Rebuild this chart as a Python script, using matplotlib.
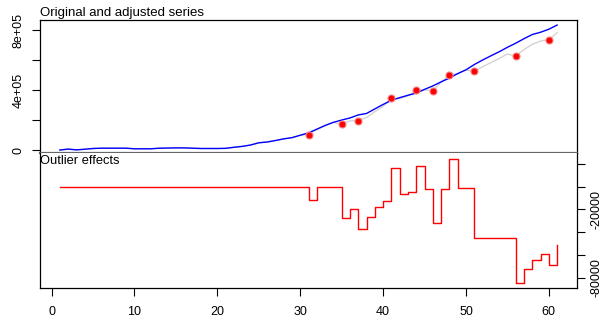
"""
Outlier detection plot - original vs adjusted series and outlier effects
"""

import numpy as np
import matplotlib
matplotlib.use('Agg')
import matplotlib.pyplot as plt

# font close to R's Helvetica/Arial
matplotlib.rcParams['font.family'] = ['Liberation Sans', 'DejaVu Sans']

# ---- data ----
time_idx = list(range(1, 62))

# adjusted series (blue)
adjusted = [2000, 8000, 3000, 7000, 12000, 14000, 14000, 14000, 14000, 10000,
            10000, 10000, 14000, 15000, 16000, 16000, 14000, 12000, 12000, 12000,
            13000, 20000, 26000, 35000, 50000, 55000, 65000, 76000, 84000, 100000,
            116000, 140000, 165000, 186000, 201000, 215000, 235000, 245000, 275000, 305000,
            332000, 350000, 366000, 380000, 405000, 428000, 455000, 480000, 510000, 535000,
            570000, 600000, 628000, 655000, 685000, 712000, 742000, 770000, 785000, 805000,
            833000]

# combined outlier effects (red step line)
effects = [0] * 30 + [-12000, 0, 0, 0,
                      -27800, -19700, -37400, -26400, -18200, -13000,
                      15900, -6600, -4800, 17900, -2400, -32200,
                      -1900, 24000, -1000, -1000,
                      -44700, -44700, -44700, -44700, -44700,
                      -84600, -72400, -64500, -58700, -68300, -51000]

# times where an outlier was detected
outlier_times = [31, 35, 37, 41, 44, 46, 48, 51, 56, 60]

# original series = adjusted + effects
original = np.array(adjusted) + np.array(effects)
outlier_values = [original[t - 1] for t in outlier_times]

# ---- figure ----
fig = plt.figure(figsize=(6.06, 3.21), dpi=100)
ax1 = fig.add_axes([40 / 606, 1 - 153 / 321, 537 / 606, 133 / 321])
ax2 = fig.add_axes([40 / 606, 1 - 288 / 321, 537 / 606, 135 / 321])

# top panel
ax1.plot(time_idx, original, color='#d3d3d3', lw=1.0)
ax1.plot(time_idx, adjusted, color='blue', lw=1.0)
ax1.plot(outlier_times, outlier_values, 'o', ms=5, mfc='red', mec='#f27d7d', mew=0.8)
ax1.set_xlim(-1.4, 63.4)
ax1.set_ylim(-17950, 866500)
ax1.set_xticks([])
ax1.set_yticks([0, 200000, 400000, 600000, 800000])
ax1.set_yticklabels(['0', '', '4e+05', '', '8e+05'])
ax1.tick_params(axis='y', length=6, width=0.8, pad=5, labelsize=9, labelrotation=90)
for lab in ax1.get_yticklabels():
    lab.set_va('center')
ax1.text(0, 1.01, 'Original and adjusted series', transform=ax1.transAxes,
         ha='left', va='bottom', fontsize=9.5)
ax1.spines['bottom'].set_color('#666666')
ax1.spines['bottom'].set_linewidth(1.6)

# bottom panel
ax2.plot(time_idx, effects, color='red', lw=1.0, drawstyle='steps-post')
ax2.set_xlim(-1.4, 63.4)
ax2.set_ylim(-88740, 29290)
ax2.yaxis.tick_right()
ax2.set_yticks([20000, 0, -20000, -40000, -60000, -80000])
ax2.set_yticklabels(['', '', '-20000', '', '', '-80000'])
ax2.tick_params(axis='y', length=6, width=0.8, pad=4, labelsize=9, labelrotation=90)
for lab in ax2.get_yticklabels():
    lab.set_va('center')
ax2.set_xticks([0, 10, 20, 30, 40, 50, 60])
ax2.tick_params(axis='x', length=6, width=0.8, pad=7, labelsize=9)
ax2.spines['top'].set_visible(False)
ax2.text(0, 0.985, 'Outlier effects', transform=ax2.transAxes,
         ha='left', va='top', fontsize=9.3)

for ax in (ax1, ax2):
    for name in ('left', 'right', 'top', 'bottom'):
        if ax.spines[name].get_linewidth() < 1.5:
            ax.spines[name].set_linewidth(0.9)

fig.savefig('out.png', dpi=100)
